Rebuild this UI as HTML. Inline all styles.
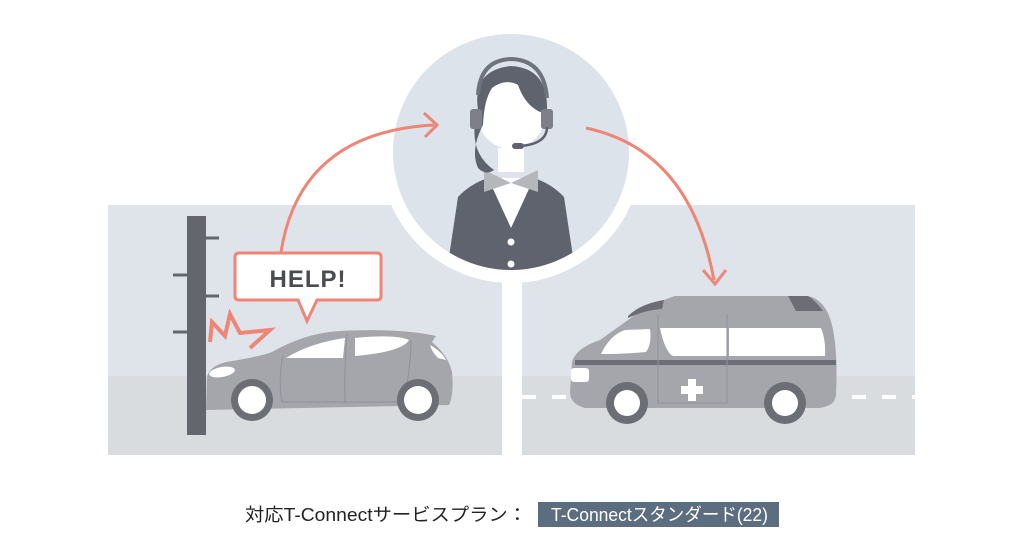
<!DOCTYPE html>
<html><head><meta charset="utf-8"><style>
html,body{margin:0;padding:0;background:#fff;}
svg{display:block}
</style></head><body>
<svg width="1023" height="546" viewBox="0 0 1023 546" xmlns="http://www.w3.org/2000/svg">
<defs>
<clipPath id="cc"><circle cx="511" cy="152" r="118"/></clipPath>
</defs>
<rect x="108" y="205" width="394" height="250" fill="#dfe4ea"/>
<rect x="108" y="376" width="394" height="79" fill="#d9dcdf"/>
<rect x="522" y="205" width="393" height="250" fill="#dfe4ea"/>
<rect x="522" y="376" width="393" height="79" fill="#d9dcdf"/>
<path d="M522 397 H915" stroke="#fff" stroke-width="4" stroke-dasharray="14 16"/>
<circle cx="511" cy="152" r="131" fill="#fff"/>
<circle cx="511" cy="152" r="118" fill="#dde3ea"/>
<g clip-path="url(#cc)">
 <path d="M458 197 Q470 184 488 178 L534 178 Q552 184 564 197 L578 290 L444 290 Z" fill="#5e636d"/>
 <path d="M488 178 L534 178 L511 228 Z" fill="#fff"/>
 <path d="M484 170 L511 183 L538 170 L538 192 L511 183 L484 192 Z" fill="#b4b7bc"/>
 <circle cx="511" cy="242" r="3.5" fill="#fff"/>
 <circle cx="511" cy="264" r="3.5" fill="#fff"/>
 <path d="M498 148 L498 172 L524 172 L524 148 Z" fill="#fff"/>
 <path d="M480 100 Q483 70 511 68 Q541 70 545 105 L545 118 Q541 145 511 150 Q481 145 478 118 Z" fill="#fff"/>
 <path d="M478 110 Q472 70 511 66 Q548 68 547 110 L540 112 Q525 105 518 85 Q505 78 492 88 Q484 100 483 125 Q470 150 478 168 Q486 176 494 170 Q466 150 478 110 Z" fill="#5e636d"/>
 <path d="M478 95 Q480 60 511 59 Q544 60 547 98" fill="none" stroke="#6f737b" stroke-width="4"/>
 <rect x="470" y="109" width="12" height="20" rx="3" fill="#7d8088"/>
 <rect x="541" y="109" width="12" height="20" rx="3" fill="#7d8088"/>
 <path d="M547 127 Q547 144 520 146" fill="none" stroke="#5e636d" stroke-width="2.5"/>
 <rect x="512" y="143" width="12" height="6" rx="3" fill="#5e636d"/>
</g>
<path d="M281 252 Q300 132 434 125" fill="none" stroke="#ee8576" stroke-width="3"/>
<path d="M424 113 L437 125 L425 137" fill="none" stroke="#ee8576" stroke-width="3"/>
<path d="M586 128 Q690 150 714 280" fill="none" stroke="#ee8576" stroke-width="3"/>
<path d="M703 270 L715 284 L726 270" fill="none" stroke="#ee8576" stroke-width="3"/>
<rect x="187" y="216" width="19" height="219" fill="#63666d"/>
<g stroke="#63666d" stroke-width="3">
<path d="M206 238 H219"/><path d="M173 275 H187"/><path d="M206 296 H219"/><path d="M173 332 H187"/>
</g>
<path d="M210 342 L212 322 L225 336 L230 314 L240 333 L270 330 L250 348" fill="none" stroke="#ee8576" stroke-width="4"/>
<path d="M239 253 H377 Q381 253 381 257 V296 Q381 300 377 300 H317 L307 321 L298 300 H239 Q235 300 235 296 V257 Q235 253 239 253 Z" fill="#fff" stroke="#ee8576" stroke-width="3"/>
<text x="308" y="287" text-anchor="middle" font-family="Liberation Sans, sans-serif" font-weight="bold" font-size="24" fill="#4a4c52" letter-spacing="1">HELP!</text>
<path d="M207 377 Q210 364 232 361 Q262 356 272 352 Q305 333 340 331 Q400 328 436 336 L432 342 Q448 355 452 372 Q454 395 449 405 L206 410 Z" fill="#a4a6ab"/>
<path d="M286 358 Q310 343 345 338 L343 358 Z" fill="#fff"/>
<path d="M355 338 Q395 334 409 340 Q402 352 355 356 Z" fill="#fff"/>
<path d="M430 345 Q442 352 446 360 L438 358 Q432 352 430 345 Z" fill="#fff"/>
<ellipse cx="222" cy="372" rx="13" ry="5" fill="#fff" transform="rotate(-10 222 372)"/>
<path d="M283 355 Q278 380 282 402 L345 402 M347 334 Q344 370 345 402 L402 402 Q410 380 411 340" fill="none" stroke="#8f9197" stroke-width="1"/>
<circle cx="252" cy="400" r="21" fill="#6b6e74"/><circle cx="252" cy="400" r="14" fill="#fff"/>
<circle cx="418" cy="400" r="21" fill="#6b6e74"/><circle cx="418" cy="400" r="14" fill="#fff"/>
<path d="M572 362 Q576 348 600 340 L628 320 Q645 306 675 296 L808 296 Q826 300 832 325 Q838 350 836 395 Q836 405 820 408 L585 408 Q570 404 570 392 Z" fill="#a4a6ab"/>
<path d="M628 316 Q640 304 664 300 L662 309 Q645 310 628 318 Z" fill="#6b6e74"/>
<path d="M788 296 L808 296 Q815 300 823 311 L796 311 Z" fill="#6b6e74"/>
<path d="M601 354 Q610 335 625 330 L650 329 Q652 344 646 352 Q625 354 601 354 Z" fill="#fff"/>
<path d="M660 328 L727 328 L727 356 L673 356 Q665 352 660 328 Z" fill="#fff"/>
<path d="M729 328 L821 328 Q826 340 825 356 L729 356 Z" fill="#fff"/>
<rect x="575" y="360" width="261" height="5" fill="#6b6e74"/>
<rect x="571" y="368" width="18" height="14" rx="3" fill="#fff"/>
<path d="M658 314 V403 H727 V314" fill="none" stroke="#8f9197" stroke-width="1"/>
<rect x="688" y="379" width="8" height="22" fill="#fff"/><rect x="681" y="386" width="22" height="8" fill="#fff"/>
<circle cx="627" cy="403" r="21" fill="#6b6e74"/><circle cx="627" cy="403" r="13" fill="#fff"/>
<circle cx="785" cy="403" r="21" fill="#6b6e74"/><circle cx="785" cy="403" r="13" fill="#fff"/>
<text x="245" y="521" textLength="282" lengthAdjust="spacingAndGlyphs" font-family="Liberation Sans, 'Noto Sans CJK JP', sans-serif" font-size="18" fill="#222">対応T-Connectサービスプラン：</text>
<rect x="538" y="502" width="241" height="25" fill="#5b6d7e"/>
<text x="551" y="521" textLength="217" lengthAdjust="spacingAndGlyphs" font-family="Liberation Sans, 'Noto Sans CJK JP', sans-serif" font-size="18" fill="#fff">T-Connectスタンダード(22)</text>
</svg>
</body></html>
